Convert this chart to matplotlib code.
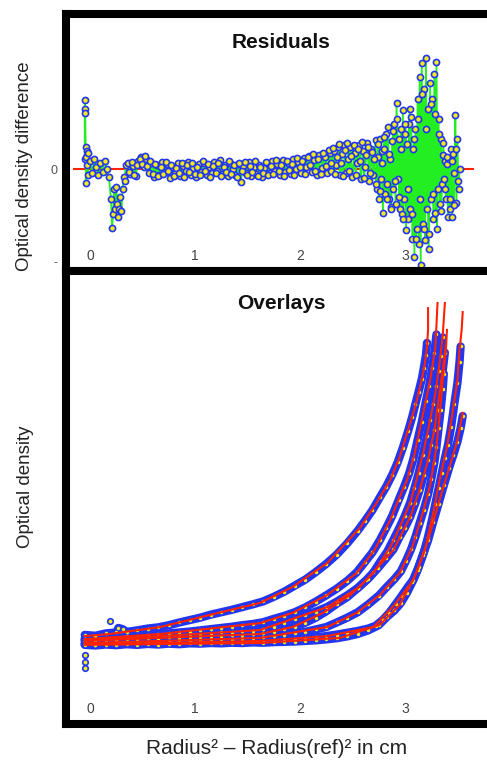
import numpy as np
import matplotlib.pyplot as plt

plt.rcParams['font.family'] = ['Liberation Sans', 'DejaVu Sans']

# residuals: (radius^2 - radius(ref)^2, optical density difference)
residuals = [
    (-0.05, 0.010), (-0.05, 0.069), (-0.045, 0.060), (-0.045, 0.056), (-0.04, 0.012),
    (-0.04, -0.014), (-0.035, 0.022), (-0.03, 0.004), (-0.03, 0.018), (-0.02, -0.006),
    (-0.02, 0.016), (0.00, 0.008), (0.02, -0.004), (0.04, 0.010), (0.06, 0.002),
    (0.08, -0.006), (0.10, 0.006), (0.12, -0.003), (0.14, 0.008), (0.16, 0.000),
    (0.18, -0.008), (0.20, -0.030), (0.21, -0.059), (0.22, -0.045), (0.23, -0.020),
    (0.24, -0.040), (0.25, -0.018), (0.26, -0.035), (0.27, -0.048), (0.28, -0.040),
    (0.29, -0.028), (0.30, -0.042), (0.31, -0.020), (0.32, -0.008), (0.33, -0.012),
    (0.34, 0.004), (0.36, 0.006), (0.385, -0.005), (0.41, 0.003), (0.435, -0.007),
    (0.46, 0.008), (0.485, 0.012), (0.51, 0.002), (0.535, 0.010), (0.56, -0.004),
    (0.585, 0.006), (0.61, -0.008), (0.635, 0.004), (0.66, -0.006), (0.685, 0.007),
    (0.71, -0.003), (0.735, 0.005), (0.76, -0.009), (0.785, 0.002), (0.81, -0.004),
    (0.835, 0.006), (0.86, -0.007), (0.885, 0.003), (0.91, -0.002), (0.935, 0.007),
    (0.96, -0.006), (0.985, 0.001), (1.01, -0.008), (1.035, 0.005), (1.06, -0.003),
    (1.085, 0.006), (1.11, -0.006), (1.135, 0.002), (1.16, -0.004), (1.185, 0.007),
    (1.21, -0.002), (1.235, 0.009), (1.26, -0.005), (1.285, 0.004), (1.31, -0.007),
    (1.335, 0.006), (1.36, 0.000), (1.385, -0.006), (1.41, 0.005), (1.435, -0.013),
    (1.46, 0.003), (1.485, -0.004), (1.51, 0.007), (1.535, -0.007), (1.56, 0.002),
    (1.585, -0.005), (1.61, 0.004), (1.635, -0.008), (1.66, 0.001), (1.685, 0.006),
    (1.71, -0.004), (1.735, 0.008), (1.76, -0.002), (1.785, 0.005), (1.81, -0.006),
    (1.835, 0.009), (1.86, -0.003), (1.885, 0.006), (1.91, -0.005), (1.935, 0.010),
    (1.96, 0.000), (1.985, 0.007), (2.01, -0.004), (2.035, 0.011), (2.06, 0.002),
    (2.085, 0.013), (2.11, -0.003), (2.135, 0.009), (2.16, -0.006), (2.185, 0.014),
    (2.21, 0.001), (2.235, 0.012), (2.26, -0.004), (2.285, 0.016), (2.30, -0.002),
    (2.32, 0.018), (2.34, 0.004), (2.36, 0.022), (2.38, -0.006), (2.40, 0.015),
    (2.42, 0.024), (2.44, -0.004), (2.46, 0.010), (2.48, 0.022), (2.50, -0.008),
    (2.52, 0.016), (2.54, 0.006), (2.56, 0.024), (2.58, -0.010), (2.60, 0.018),
    (2.62, 0.002), (2.64, 0.026), (2.66, -0.012), (2.68, 0.020), (2.70, -0.006),
    (2.72, 0.029), (2.73, -0.020), (2.74, 0.012), (2.75, -0.030), (2.76, 0.030),
    (2.77, -0.010), (2.78, 0.018), (2.79, -0.044), (2.80, 0.020), (2.81, -0.025),
    (2.82, 0.035), (2.83, -0.015), (2.84, 0.042), (2.85, -0.030), (2.86, 0.010),
    (2.87, -0.038), (2.88, 0.028), (2.89, -0.020), (2.90, 0.045), (2.91, -0.035),
    (2.92, 0.066), (2.93, -0.010), (2.94, 0.030), (2.95, -0.040), (2.96, 0.040),
    (2.97, -0.045), (2.98, 0.059), (2.99, -0.030), (3.00, 0.035), (3.01, -0.061),
    (3.02, 0.025), (3.03, -0.050), (3.04, 0.045), (3.05, -0.040), (3.06, 0.052),
    (3.07, -0.070), (3.08, 0.020), (3.09, -0.088), (3.10, 0.040), (3.11, -0.060),
    (3.12, 0.070), (3.13, -0.075), (3.14, 0.092), (3.15, -0.096), (3.16, 0.106),
    (3.17, -0.055), (3.18, 0.080), (3.19, -0.071), (3.20, 0.111), (3.21, -0.040),
    (3.22, 0.060), (3.23, -0.065), (3.24, 0.086), (3.25, -0.030), (3.26, 0.070),
    (3.27, -0.050), (3.28, 0.095), (3.29, -0.044), (3.30, 0.107), (3.31, -0.020),
    (3.32, 0.050), (3.33, -0.035), (3.34, 0.030), (3.35, -0.015), (3.36, 0.014),
    (3.37, -0.010), (3.38, 0.008), (3.39, -0.030), (3.40, 0.005), (3.41, -0.048),
    (3.42, 0.010), (3.43, -0.040), (3.44, 0.020), (3.45, -0.048), (3.46, 0.015),
    (3.47, -0.004), (3.48, 0.054), (3.49, -0.034), (3.50, 0.030), (3.51, -0.020),
    (3.52, 0.000),
]
# a second scan's residuals, filling the quiet middle of the band
residuals_b = [
    (0.3725, -0.003), (0.3975, 0.007), (0.4225, -0.006), (0.4475, 0.004), (0.4725, 0.010),
    (0.4975, 0.005), (0.5225, 0.013), (0.5475, 0.003), (0.5725, 0.008), (0.5975, -0.005),
    (0.6225, 0.005), (0.6475, -0.007), (0.6725, 0.002), (0.6975, -0.005), (0.7225, 0.007),
    (0.7475, -0.002), (0.7725, 0.004), (0.7975, -0.007), (0.8225, 0.001), (0.8475, -0.004),
    (0.8725, 0.006), (0.8975, -0.008), (0.9225, 0.004), (0.9475, -0.003), (0.9725, 0.006),
    (0.9975, -0.005), (1.0225, 0.002), (1.0475, -0.006), (1.0725, 0.008), (1.0975, -0.002),
    (1.1225, 0.005), (1.1475, -0.008), (1.1725, 0.003), (1.1975, -0.004), (1.2225, 0.006),
    (1.2475, -0.007), (1.2725, 0.002), (1.2975, -0.003), (1.3225, 0.008), (1.3475, -0.005),
    (1.3725, 0.004), (1.3975, -0.008), (1.4225, 0.006), (1.4475, -0.002), (1.4725, 0.007),
    (1.4975, -0.006), (1.5225, 0.003), (1.5475, -0.003), (1.5725, 0.008), (1.5975, -0.007),
    (1.6225, 0.002), (1.6475, -0.004), (1.6725, 0.007), (1.6975, -0.006), (1.7225, 0.003),
    (1.7475, -0.005), (1.7725, 0.009), (1.7975, -0.002), (1.8225, 0.004), (1.8475, -0.007),
    (1.8725, 0.008), (1.8975, -0.001), (1.9225, 0.005), (1.9475, -0.006), (1.9725, 0.011),
    (1.9975, 0.002), (2.0225, 0.008), (2.0475, -0.005), (2.0725, 0.012), (2.0975, 0.004),
    (2.1225, 0.015), (2.1475, -0.002), (2.1725, 0.010), (2.1975, -0.005), (2.2225, 0.016),
    (2.2475, 0.003), (2.2725, 0.019), (2.2975, 0.006), (2.31, 0.021), (2.33, -0.005),
    (2.35, 0.012), (2.37, 0.025), (2.39, 0.006), (2.41, -0.007), (2.43, 0.019),
    (2.45, 0.026), (2.47, -0.002), (2.49, 0.013), (2.51, 0.024), (2.53, -0.006),
    (2.55, 0.020), (2.57, 0.008), (2.59, 0.027), (2.61, -0.009), (2.63, 0.014),
    (2.65, 0.022), (2.67, -0.004), (2.69, 0.017),
]
# a third scan's residuals in the noisy outer region
residuals_c = [
    (2.705, 0.010), (2.725, -0.015), (2.745, 0.025), (2.765, -0.022), (2.785, 0.006),
    (2.805, 0.032), (2.825, -0.030), (2.845, 0.015), (2.865, -0.040), (2.885, 0.038),
    (2.905, -0.012), (2.925, 0.050), (2.945, -0.028), (2.965, 0.020), (2.985, -0.050),
    (3.005, 0.045), (3.025, -0.020), (3.045, 0.060), (3.065, -0.045), (3.085, 0.030),
    (3.105, -0.070), (3.125, 0.050), (3.145, -0.030), (3.165, 0.075), (3.185, -0.060),
    (3.205, 0.040), (3.225, -0.080), (3.245, 0.065), (3.265, -0.025), (3.285, 0.055),
    (3.305, -0.060), (3.325, 0.035), (3.345, -0.042), (3.365, 0.026), (3.385, -0.020),
    (3.405, 0.012), (3.425, -0.030), (3.445, 0.008), (3.465, -0.036), (3.485, 0.020),
    (3.505, -0.012),
]

# overlays: measured scans (radius^2 - ref^2, optical density)
scan1 = [(-0.05, 0.295), (0.05, 0.292), (0.15, 0.300), (0.25, 0.303),
         (0.27, 0.318), (0.31, 0.314), (0.35, 0.305), (0.45, 0.310), (0.55, 0.316),
         (0.65, 0.320), (0.75, 0.327), (0.85, 0.336), (0.95, 0.344), (1.05, 0.352),
         (1.15, 0.362), (1.25, 0.370), (1.35, 0.378), (1.45, 0.387), (1.55, 0.396),
         (1.65, 0.406), (1.75, 0.421), (1.85, 0.438), (1.95, 0.458), (2.05, 0.478),
         (2.15, 0.503), (2.25, 0.530), (2.35, 0.561), (2.45, 0.598), (2.55, 0.640),
         (2.62, 0.673), (2.69, 0.708), (2.76, 0.750), (2.82, 0.785), (2.88, 0.826),
         (2.93, 0.866), (2.98, 0.915), (3.03, 0.970), (3.07, 1.018), (3.10, 1.060),
         (3.13, 1.100), (3.16, 1.142), (3.18, 1.180), (3.20, 1.222), (3.21, 1.262)]
scan2 = [(-0.05, 0.283), (0.05, 0.281), (0.15, 0.286), (0.25, 0.284), (0.35, 0.290),
         (0.45, 0.289), (0.55, 0.295), (0.65, 0.297), (0.75, 0.300), (0.85, 0.303),
         (0.95, 0.306), (1.05, 0.310), (1.15, 0.314), (1.25, 0.318), (1.35, 0.322),
         (1.45, 0.327), (1.55, 0.331), (1.65, 0.337), (1.75, 0.348), (1.85, 0.358),
         (1.95, 0.370), (2.05, 0.386), (2.15, 0.405), (2.25, 0.426), (2.35, 0.448),
         (2.45, 0.474), (2.54, 0.502), (2.62, 0.537), (2.69, 0.568), (2.76, 0.608),
         (2.82, 0.648), (2.88, 0.690), (2.94, 0.742), (2.99, 0.784), (3.04, 0.830),
         (3.08, 0.878), (3.12, 0.940), (3.16, 1.000), (3.20, 1.070), (3.23, 1.120),
         (3.26, 1.180), (3.28, 1.230), (3.30, 1.290)]
scan3 = [(-0.05, 0.276), (0.05, 0.274), (0.15, 0.278), (0.25, 0.277), (0.35, 0.281),
         (0.45, 0.280), (0.55, 0.284), (0.65, 0.283), (0.75, 0.287), (0.85, 0.286),
         (0.95, 0.289), (1.05, 0.290), (1.15, 0.292), (1.25, 0.292), (1.35, 0.295),
         (1.45, 0.296), (1.55, 0.298), (1.65, 0.300), (1.75, 0.306), (1.85, 0.314),
         (1.95, 0.322), (2.05, 0.335), (2.15, 0.352), (2.25, 0.373), (2.35, 0.398),
         (2.45, 0.420), (2.55, 0.450), (2.63, 0.476), (2.70, 0.502), (2.77, 0.540),
         (2.83, 0.570), (2.89, 0.610), (2.95, 0.652), (3.00, 0.690), (3.05, 0.733),
         (3.09, 0.780), (3.13, 0.830), (3.17, 0.890), (3.21, 0.955), (3.24, 1.007),
         (3.27, 1.060), (3.30, 1.120), (3.32, 1.170), (3.34, 1.220), (3.36, 1.280)]
scan4 = [(-0.05, 0.268), (0.05, 0.270), (0.15, 0.267), (0.25, 0.272), (0.35, 0.270),
         (0.45, 0.274), (0.55, 0.272), (0.65, 0.276), (0.75, 0.275), (0.85, 0.278),
         (0.95, 0.277), (1.05, 0.280), (1.15, 0.280), (1.25, 0.282), (1.35, 0.282),
         (1.45, 0.284), (1.55, 0.285), (1.65, 0.287), (1.75, 0.290), (1.85, 0.295),
         (1.95, 0.300), (2.05, 0.305), (2.15, 0.313), (2.25, 0.321), (2.35, 0.336),
         (2.45, 0.352), (2.55, 0.370), (2.65, 0.396), (2.75, 0.425), (2.83, 0.455),
         (2.90, 0.480), (2.96, 0.505), (3.01, 0.540), (3.06, 0.580), (3.10, 0.620),
         (3.14, 0.665), (3.18, 0.710), (3.22, 0.760), (3.25, 0.810), (3.28, 0.865),
         (3.30, 0.917), (3.32, 0.980), (3.34, 1.040), (3.36, 1.110), (3.37, 1.160)]
scan5 = [(-0.05, 0.264), (0.05, 0.262), (0.15, 0.266), (0.25, 0.264), (0.35, 0.267),
         (0.45, 0.265), (0.55, 0.268), (0.65, 0.267), (0.75, 0.270), (0.85, 0.269),
         (0.95, 0.271), (1.05, 0.271), (1.15, 0.273), (1.25, 0.272), (1.35, 0.275),
         (1.45, 0.274), (1.55, 0.276), (1.65, 0.276), (1.75, 0.278), (1.85, 0.280),
         (1.95, 0.282), (2.05, 0.284), (2.15, 0.287), (2.25, 0.291), (2.35, 0.296),
         (2.45, 0.302), (2.55, 0.308), (2.65, 0.316), (2.72, 0.325), (2.79, 0.345),
         (2.85, 0.368), (2.91, 0.396), (2.97, 0.425), (3.03, 0.455), (3.08, 0.478),
         (3.13, 0.520), (3.18, 0.568), (3.22, 0.620), (3.26, 0.680), (3.29, 0.730),
         (3.32, 0.780), (3.35, 0.830), (3.38, 0.880), (3.41, 0.925), (3.44, 0.985),
         (3.47, 1.060), (3.50, 1.130), (3.52, 1.200), (3.53, 1.250)]
scan6 = [(-0.05, 0.262), (0.05, 0.260),
         (0.15, 0.263), (0.25, 0.261), (0.35, 0.264), (0.45, 0.262), (0.55, 0.265),
         (0.65, 0.263), (0.75, 0.266), (0.85, 0.264), (0.95, 0.267), (1.05, 0.266),
         (1.15, 0.268), (1.25, 0.267), (1.35, 0.269), (1.45, 0.268), (1.55, 0.270),
         (1.65, 0.269), (1.75, 0.271), (1.85, 0.272), (1.95, 0.273), (2.05, 0.275),
         (2.15, 0.277), (2.25, 0.280), (2.35, 0.284), (2.45, 0.290), (2.55, 0.298),
         (2.65, 0.310), (2.75, 0.327), (2.83, 0.355), (2.90, 0.376), (2.96, 0.400),
         (3.02, 0.435), (3.07, 0.470), (3.12, 0.510), (3.17, 0.560), (3.22, 0.608),
         (3.27, 0.670), (3.32, 0.730), (3.37, 0.790), (3.42, 0.848), (3.46, 0.890),
         (3.50, 0.935), (3.53, 0.980), (3.55, 1.020)]
scan7 = [(-0.05, 0.279), (0.05, 0.278), (0.15, 0.282), (0.25, 0.283), (0.35, 0.285),
         (0.45, 0.287), (0.55, 0.289), (0.65, 0.291), (0.75, 0.293), (0.85, 0.295),
         (0.95, 0.297), (1.05, 0.299), (1.15, 0.301), (1.25, 0.303), (1.35, 0.305),
         (1.45, 0.307), (1.55, 0.309), (1.65, 0.313), (1.75, 0.322), (1.85, 0.333),
         (1.95, 0.346), (2.05, 0.360), (2.15, 0.372), (2.25, 0.386), (2.35, 0.405),
         (2.45, 0.426), (2.55, 0.450), (2.65, 0.481), (2.74, 0.515), (2.82, 0.548),
         (2.89, 0.578), (2.95, 0.620), (3.00, 0.650), (3.05, 0.686), (3.10, 0.732),
         (3.14, 0.775), (3.18, 0.825), (3.22, 0.874), (3.25, 0.925), (3.28, 0.974),
         (3.31, 1.040), (3.34, 1.110), (3.36, 1.170), (3.38, 1.230)]
# isolated points off the scans
stray = [(-0.05, 0.185), (-0.05, 0.205), (-0.05, 0.229), (0.19, 0.341)]

# fitted curves for each scan
fit1 = [(-0.05, 0.291), (0.19, 0.298), (0.67, 0.321), (1.14, 0.361), (1.62, 0.401),
        (1.93, 0.454), (2.26, 0.533), (2.57, 0.649), (2.73, 0.732), (2.86, 0.808),
        (2.95, 0.884), (3.03, 0.974), (3.08, 1.030), (3.12, 1.083), (3.16, 1.139),
        (3.19, 1.195), (3.21, 1.248), (3.22, 1.305), (3.22, 1.377)]
fit2 = [(-0.05, 0.281), (0.67, 0.298), (1.62, 0.334), (1.93, 0.368), (2.26, 0.427),
        (2.54, 0.500), (2.71, 0.576), (2.86, 0.675), (2.95, 0.752), (3.02, 0.808),
        (3.09, 0.891), (3.14, 0.974), (3.19, 1.056), (3.24, 1.139), (3.27, 1.205),
        (3.29, 1.248), (3.30, 1.321), (3.31, 1.394)]
fit3 = [(-0.05, 0.275), (0.67, 0.285), (1.62, 0.298), (1.93, 0.321), (2.22, 0.368),
        (2.48, 0.427), (2.70, 0.500), (2.86, 0.586), (2.95, 0.652), (3.05, 0.732),
        (3.11, 0.808), (3.18, 0.907), (3.24, 1.007), (3.29, 1.096), (3.33, 1.195),
        (3.36, 1.288), (3.38, 1.394)]
fit4 = [(-0.05, 0.268), (0.67, 0.275), (1.62, 0.285), (2.26, 0.321), (2.54, 0.368),
        (2.76, 0.427), (2.95, 0.500), (3.07, 0.586), (3.17, 0.699), (3.24, 0.791),
        (3.30, 0.917), (3.33, 1.023), (3.36, 1.139), (3.39, 1.238), (3.40, 1.305)]
fit5 = [(-0.05, 0.265), (0.67, 0.268), (1.62, 0.275), (2.26, 0.291), (2.70, 0.321),
        (2.90, 0.394), (3.08, 0.477), (3.19, 0.576), (3.27, 0.699), (3.33, 0.808),
        (3.40, 0.917), (3.45, 1.023), (3.50, 1.139), (3.52, 1.238), (3.54, 1.305),
        (3.55, 1.364)]
fit6 = [(-0.05, 0.262), (1.62, 0.268), (2.38, 0.285), (2.76, 0.328), (2.95, 0.394),
        (3.10, 0.493), (3.22, 0.609), (3.33, 0.742), (3.43, 0.858), (3.50, 0.940),
        (3.55, 1.030)]
fit7 = [(-0.05, 0.278), (0.67, 0.291), (1.62, 0.311), (2.26, 0.387), (2.57, 0.454),
        (2.89, 0.576), (3.05, 0.685), (3.14, 0.775), (3.22, 0.874), (3.28, 0.974),
        (3.32, 1.073), (3.36, 1.172), (3.39, 1.255)]

scans = [scan1, scan2, scan3, scan4, scan5, scan6, scan7]
fits = [fit1, fit2, fit3, fit4, fit5, fit6, fit7]
xtick_vals = [0, 1, 2, 3]

blue = '#2236f0'
yellow = '#f2ea1c'
green = '#22ee22'
red = '#ff2200'

fig = plt.figure(figsize=(4.87, 7.64), dpi=100)
ax1 = fig.add_axes([0.1355, 0.6453, 0.9138, 0.337])
ax2 = fig.add_axes([0.1355, 0.0524, 0.9138, 0.5929])

# residuals panel
res_sets = [np.array(r).T for r in (residuals, residuals_b, residuals_c)]
rx = res_sets[0][0]
ax1.hlines(0, rx.min() - 0.11, rx.max() + 0.14, color=red, lw=1.5, zorder=1)
for xs, ys in res_sets:
    ax1.plot(xs, ys, '-', color=green, lw=1.3, zorder=2)
for xs, ys in res_sets:
    ax1.plot(xs, ys, 'o', ms=4.4, mfc=yellow, mec=blue, mew=1.2, zorder=3)
ax1.set_xlim(-0.2286, 4.01)
ax1.set_ylim(-0.102, 0.1555)
ax1.set_xticks([])
ax1.set_yticks([-0.093, 0], ['-', '0'])
ax1.tick_params(axis='y', length=0, pad=6, labelsize=9, labelcolor='#555555')
for v in xtick_vals:
    ax1.text(v, 0.058, str(v), transform=ax1.get_xaxis_transform(),
             ha='center', va='center', fontsize=10, color='#444444')
ax1.text(0.483, 0.889, 'Residuals', transform=ax1.transAxes, ha='center',
         va='center', fontsize=15, fontweight='bold', color='#111111')

# overlays panel
for scan, fit in zip(scans, fits):
    sx, sy = np.array(scan).T
    ax2.plot(sx, sy, color=blue, lw=6, solid_capstyle='round', zorder=2)
    ax2.plot(sx, sy, 'o', ms=2.5, color=yellow, mec='none', zorder=3)
    fx, fy = np.array(fit).T
    ax2.plot(fx, fy, color=red, lw=1.5, zorder=4)
ox, oy = np.array(stray).T
ax2.plot(ox, oy, 'o', ms=4, mfc=yellow, mec=blue, mew=1.2, zorder=3)
ax2.set_xlim(-0.2286, 4.01)
ax2.set_ylim(0, 1.5)
ax2.set_xticks([])
ax2.set_yticks([])
for v in xtick_vals:
    ax2.text(v, 0.033, str(v), transform=ax2.get_xaxis_transform(),
             ha='center', va='center', fontsize=10, color='#444444')
ax2.text(0.483, 0.929, 'Overlays', transform=ax2.transAxes, ha='center',
         va='center', fontsize=15, fontweight='bold', color='#111111')

for ax in (ax1, ax2):
    for s in ax.spines.values():
        s.set_linewidth(5.8)
        s.set_capstyle('projecting')

fig.text(25 / 487, 1 - 166 / 764, 'Optical density difference', rotation=90,
         ha='center', va='center', fontsize=13.5, color='#222222')
fig.text(25 / 487, 1 - 487 / 764, 'Optical density', rotation=90,
         ha='center', va='center', fontsize=13.5, color='#222222')
fig.text(277 / 487, 1 - 748 / 764, 'Radius² – Radius(ref)² in cm',
         ha='center', va='center', fontsize=15, color='#222222')

fig.savefig('out.png', dpi=100)
